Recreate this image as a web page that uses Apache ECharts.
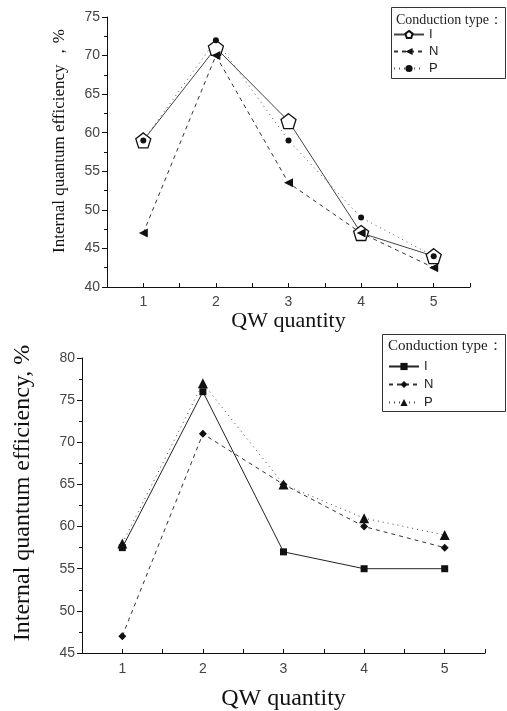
<!DOCTYPE html>
<html>
<head>
<meta charset="utf-8">
<script src="https://cdn.jsdelivr.net/npm/echarts@6/dist/echarts.min.js"></script>
<style>html,body{margin:0;padding:0;background:#fff}#c{width:507px;height:711px}</style>
</head>
<body>
<div id="c"></div>
<script>
// ---- data ----
var qw = [1, 2, 3, 4, 5];
var topI = [59, 71, 61.5, 47, 44];
var topN = [47, 70, 53.5, 47, 42.5];
var topP = [59, 72, 59, 49, 44];
var botI = [57.5, 76, 57, 55, 55];
var botN = [47, 71, 65, 60, 57.5];
var botP = [58, 77, 65, 61, 59];
var legendTitle = 'Conduction type：';
var yTitleTop = 'Internal quantum efficiency ，%';
var yTitleBot = 'Internal quantum efficiency, %';
var xTitle = 'QW quantity';

function pairs(xs, ys) { return xs.map(function (x, i) { return [x, ys[i]]; }); }

var pentagon = 'path://M0,-1 L0.951,-0.309 L0.588,0.809 L-0.588,0.809 L-0.951,-0.309 Z';
var SANS = 'Liberation Sans';
var SERIF = 'Liberation Serif';

function xAxis(gi, margin) {
  return {
    type: 'value', gridIndex: gi, min: 0.5, max: 5.5, interval: 0.5,
    axisLine: { lineStyle: { color: '#111', width: 1 } },
    axisTick: { inside: true, length: 4, lineStyle: { color: '#111' } },
    splitLine: { show: false },
    axisLabel: {
      margin: margin, color: '#444', fontFamily: SANS, fontSize: 14,
      formatter: function (v) { return Number.isInteger(v) ? String(v) : ''; }
    },
    name: xTitle, nameLocation: 'middle',
    nameTextStyle: { fontFamily: SERIF, color: '#111' }
  };
}
function yAxis(gi, min, max) {
  return {
    type: 'value', gridIndex: gi, min: min, max: max, interval: 5,
    axisLine: { show: true, lineStyle: { color: '#111', width: 1 } },
    axisTick: { show: true, length: 5, lineStyle: { color: '#111' } },
    minorTick: { show: true, splitNumber: 2, length: 3, lineStyle: { color: '#111' } },
    splitLine: { show: false },
    axisLabel: { margin: 7, color: '#444', fontFamily: SANS, fontSize: 14 }
  };
}

var xa0 = xAxis(0, 8); xa0.nameGap = 17; xa0.nameTextStyle.fontSize = 22;
var xa1 = xAxis(1, 9); xa1.nameGap = 34; xa1.nameTextStyle.fontSize = 24;

function ser(name, gi, data, lineType, symbol, size, rot, fill, lineColor) {
  return {
    name: name, type: 'line', xAxisIndex: gi, yAxisIndex: gi,
    data: data, symbol: symbol, symbolSize: size, symbolRotate: rot || 0,
    showAllSymbol: true, animation: false,
    lineStyle: { color: lineColor || '#333', width: 1, type: lineType },
    itemStyle: { color: fill, borderColor: '#111', borderWidth: fill === '#fff' ? 1.3 : 0, opacity: 1 },
    emphasis: { disabled: true }
  };
}

var option = {
  backgroundColor: '#fff',
  animation: false,
  grid: [
    { left: 107, top: 17, width: 363, height: 270, containLabel: false, outerBoundsMode: 'none' },
    { left: 82, top: 358, width: 403, height: 295, containLabel: false, outerBoundsMode: 'none' }
  ],
  xAxis: [xa0, xa1],
  yAxis: [yAxis(0, 40, 75), yAxis(1, 45, 80)],
  legend: [
    { data: ['I', 'N', 'P'], orient: 'vertical', left: 393, top: 28, itemWidth: 30, itemHeight: 9, itemGap: 4,
      padding: 0, textStyle: { fontFamily: SANS, fontSize: 13, color: '#222' }, selectedMode: false },
    { data: ['I ', 'N ', 'P '], orient: 'vertical', left: 388, top: 360, itemWidth: 30, itemHeight: 9, itemGap: 5,
      padding: 0, textStyle: { fontFamily: SANS, fontSize: 13, color: '#222' }, selectedMode: false,
      formatter: function (n) { return n.trim(); } }
  ],
  graphic: [
    { type: 'rect', shape: { x: 391.5, y: 7.5, width: 114, height: 71 }, style: { fill: '#fff', stroke: '#333', lineWidth: 1 }, z: -1 },
    { type: 'text', x: 396, y: 13, style: { text: legendTitle, font: '14px "Liberation Serif"', fill: '#222' } },
    { type: 'rect', shape: { x: 382.5, y: 334.5, width: 123, height: 77 }, style: { fill: '#fff', stroke: '#333', lineWidth: 1 }, z: -1 },
    { type: 'text', x: 388, y: 339, style: { text: legendTitle, font: '15px "Liberation Serif"', fill: '#222' } },
    { type: 'text', x: 60, y: 141, rotation: Math.PI / 2,
      style: { text: yTitleTop, font: '17px "Liberation Serif"', fill: '#111', align: 'center', verticalAlign: 'middle' } },
    { type: 'text', x: 23, y: 493, rotation: Math.PI / 2,
      style: { text: yTitleBot, font: '24px "Liberation Serif"', fill: '#111', align: 'center', verticalAlign: 'middle' } }
  ],
  series: [
    ser('I', 0, pairs(qw, topI), 'solid', pentagon, 15, 0, '#fff', '#444'),
    ser('N', 0, pairs(qw, topN), [4, 4], 'triangle', 9, 90, '#111', '#333'),
    ser('P', 0, pairs(qw, topP), [1, 4], 'circle', 6, 0, '#111', '#555'),
    ser('I ', 1, pairs(qw, botI), 'solid', 'rect', 7, 0, '#111', '#222'),
    ser('N ', 1, pairs(qw, botN), [4, 4], 'diamond', 8, 0, '#111', '#333'),
    ser('P ', 1, pairs(qw, botP), [1, 4], 'triangle', 10, 0, '#111', '#444')
  ]
};
var chart = echarts.init(document.getElementById('c'), null, { renderer: 'canvas' });
chart.setOption(option);
</script>
</body>
</html>
